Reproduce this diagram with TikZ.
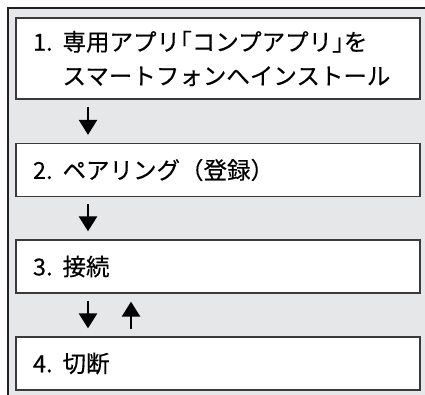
\documentclass[tikz,border=0pt]{standalone}
\usepackage{fontspec}
\setmainfont{Noto Sans CJK JP}[FakeBold=0.3]
\usepackage{tikz}
\usetikzlibrary{arrows.meta}
\definecolor{panelgray}{HTML}{E6E7E8}
\definecolor{framegray}{HTML}{231F20}
\definecolor{boxline}{HTML}{3A3A3A}

\newcommand{\halfbr}[1]{{\addfontfeature{RawFeature=+halt}#1}}

\tikzset{
  stepbox/.style={draw=boxline, line width=1.3pt, fill=white, minimum height=53pt,
    text width=370pt, inner xsep=17pt, inner ysep=0pt, align=left,
    font=\fontsize{23.5pt}{34pt}\selectfont},
  flowarrow/.style={-{Triangle[width=18pt,length=15pt]}, line width=2.6pt,
    shorten <=7pt, shorten >=8pt}
}

\begin{document}
\begin{tikzpicture}[x=1pt,y=-1pt]
        \useasboundingbox (0,0) rectangle (425,394);
        \clip (0,0) rectangle (425,394);

        \draw[framegray, line width=2pt, fill=panelgray] (8,8) rectangle (440,410);

        \node[stepbox, minimum height=81pt] (install) at (218,58.5)
          {1.\hspace{10pt}専用アプリ\halfbr{「}コンプアプリ\halfbr{」}を\\\phantom{1.}\hspace{10pt}スマートフォンへインストール};
        \node[stepbox] (pairing) at (218,170) {2.\hspace{10pt}ペアリング（登録）};
        \node[stepbox] (connect) at (218,266.5) {3.\hspace{10pt}接続};
        \node[stepbox] (cutoff) at (218,363.5) {4.\hspace{10pt}切断};

        \coordinate (leftcol) at (88,0);
        \coordinate (rightcol) at (131,0);

        \draw[flowarrow] (install.south -| leftcol) -- (pairing.north -| leftcol);
        \draw[flowarrow] (pairing.south -| leftcol) -- (connect.north -| leftcol);
        \draw[flowarrow] (connect.south -| leftcol) -- (cutoff.north -| leftcol);
        \draw[flowarrow] (cutoff.north -| rightcol) -- (connect.south -| rightcol);
\end{tikzpicture}
\end{document}
